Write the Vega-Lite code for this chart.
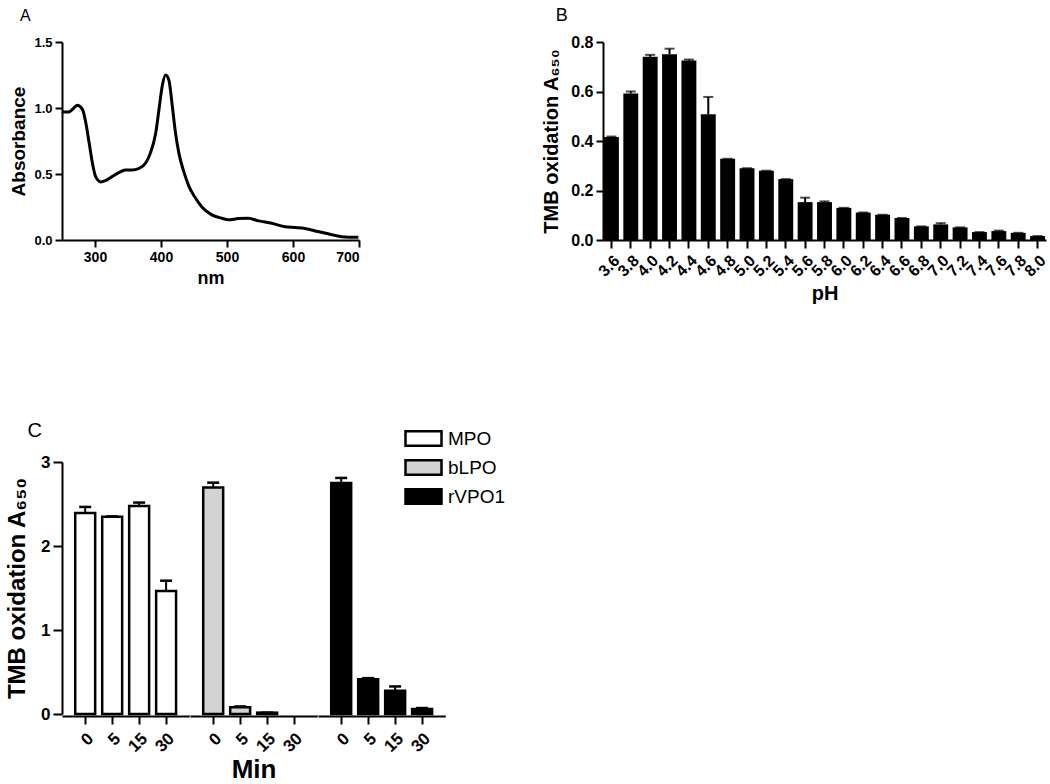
{
"$schema": "https://vega.github.io/schema/vega-lite/v6.json",
"padding": {"left": 5, "top": 7, "right": 0, "bottom": 0},
"background": "white",
"config": {
  "view": {"stroke": null},
  "font": "Liberation Sans",
  "axis": {"domainColor": "black", "domainWidth": 2, "tickColor": "black", "tickWidth": 2, "tickSize": 7, "labelColor": "black", "titleColor": "black", "grid": false, "labelFont": "Liberation Sans", "titleFont": "Liberation Sans", "labelFontWeight": "bold", "titleFontWeight": "bold", "labelPadding": 3},
  "title": {"font": "Liberation Sans", "fontWeight": "normal", "color": "black", "anchor": "start", "frame": "bounds"}
},
"vconcat": [
  {
    "hconcat": [
      {
        "title": {"text": "A", "fontSize": 16, "offset": 12, "dx": 10},
        "width": 297, "height": 198,
        "data": {"values": [
          {"nm": 250, "a": 0.975}, {"nm": 253, "a": 0.97}, {"nm": 260, "a": 0.97}, {"nm": 266, "a": 0.99}, {"nm": 273, "a": 1.02}, {"nm": 281, "a": 0.99}, {"nm": 286, "a": 0.89}, {"nm": 291, "a": 0.74}, {"nm": 296, "a": 0.585}, {"nm": 301, "a": 0.48}, {"nm": 309, "a": 0.44}, {"nm": 316, "a": 0.45}, {"nm": 326, "a": 0.48}, {"nm": 336, "a": 0.51}, {"nm": 346, "a": 0.53}, {"nm": 356, "a": 0.53}, {"nm": 366, "a": 0.54}, {"nm": 377, "a": 0.585}, {"nm": 384, "a": 0.66}, {"nm": 392, "a": 0.81}, {"nm": 397, "a": 0.99}, {"nm": 402, "a": 1.17}, {"nm": 407, "a": 1.25}, {"nm": 412, "a": 1.21}, {"nm": 417, "a": 1.02}, {"nm": 422, "a": 0.81}, {"nm": 427, "a": 0.66}, {"nm": 435, "a": 0.51}, {"nm": 442, "a": 0.41}, {"nm": 452, "a": 0.32}, {"nm": 462, "a": 0.25}, {"nm": 477, "a": 0.19}, {"nm": 492, "a": 0.165}, {"nm": 502, "a": 0.153}, {"nm": 517, "a": 0.162}, {"nm": 532, "a": 0.165}, {"nm": 548, "a": 0.145}, {"nm": 568, "a": 0.127}, {"nm": 588, "a": 0.10}, {"nm": 603, "a": 0.094}, {"nm": 618, "a": 0.087}, {"nm": 638, "a": 0.064}, {"nm": 659, "a": 0.04}, {"nm": 674, "a": 0.025}, {"nm": 699, "a": 0.02}
        ]},
        "mark": {"type": "line", "color": "black", "strokeWidth": 3, "interpolate": "monotone"},
        "encoding": {
          "x": {"field": "nm", "type": "quantitative", "scale": {"domain": [250, 700], "nice": false}, "axis": {"values": [300, 400, 500, 600, 700], "title": "nm", "labelFontSize": 14, "titleFontSize": 18, "titlePadding": 5}},
          "y": {"field": "a", "type": "quantitative", "scale": {"domain": [0, 1.5], "nice": false}, "axis": {"values": [0, 0.5, 1.0, 1.5], "format": ".1f", "title": "Absorbance", "labelFontSize": 13, "titleFontSize": 19, "titlePadding": 5}}
        }
      },
      {
        "title": {"text": "B", "fontSize": 18, "offset": 9, "dx": 14},
        "width": 443, "height": 198,
        "data": {"values": [
          {"pH": "3.6", "v": 0.416, "hi": 0.418}, {"pH": "3.8", "v": 0.592, "hi": 0.6}, {"pH": "4.0", "v": 0.74, "hi": 0.748}, {"pH": "4.2", "v": 0.751, "hi": 0.773}, {"pH": "4.4", "v": 0.725, "hi": 0.729}, {"pH": "4.6", "v": 0.508, "hi": 0.578}, {"pH": "4.8", "v": 0.328, "hi": 0.328}, {"pH": "5.0", "v": 0.29, "hi": 0.29}, {"pH": "5.2", "v": 0.28, "hi": 0.28}, {"pH": "5.4", "v": 0.246, "hi": 0.246}, {"pH": "5.6", "v": 0.153, "hi": 0.171}, {"pH": "5.8", "v": 0.153, "hi": 0.156}, {"pH": "6.0", "v": 0.13, "hi": 0.13}, {"pH": "6.2", "v": 0.111, "hi": 0.111}, {"pH": "6.4", "v": 0.102, "hi": 0.102}, {"pH": "6.6", "v": 0.089, "hi": 0.089}, {"pH": "6.8", "v": 0.055, "hi": 0.055}, {"pH": "7.0", "v": 0.063, "hi": 0.068}, {"pH": "7.2", "v": 0.051, "hi": 0.051}, {"pH": "7.4", "v": 0.032, "hi": 0.032}, {"pH": "7.6", "v": 0.036, "hi": 0.038}, {"pH": "7.8", "v": 0.029, "hi": 0.029}, {"pH": "8.0", "v": 0.016, "hi": 0.016}
        ]},
        "encoding": {
          "x": {"field": "pH", "type": "ordinal", "sort": null, "scale": {"paddingInner": 0.23, "paddingOuter": 0.05}, "axis": {"labelAngle": -45, "labelFontSize": 16, "title": "pH", "titleFontSize": 20, "tickSize": 8, "labelPadding": 4, "titlePadding": 4}},
          "y": {"field": "v", "type": "quantitative", "scale": {"domain": [0, 0.8], "nice": false}, "axis": {"values": [0, 0.2, 0.4, 0.6, 0.8], "format": ".1f", "title": "TMB oxidation A₆₅₀", "labelFontSize": 16, "titleFontSize": 20, "titlePadding": 9}}
        },
        "layer": [
          {"mark": {"type": "rule", "color": "black", "strokeWidth": 2}, "encoding": {"y2": {"field": "hi"}}},
          {"mark": {"type": "tick", "color": "black", "thickness": 2, "size": 10, "orient": "horizontal"}, "encoding": {"y": {"field": "hi", "type": "quantitative"}}},
          {"mark": {"type": "bar", "color": "black"}}
        ]
      }
    ],
    "spacing": 176
  },
  {
    "title": {"text": "C", "fontSize": 20, "offset": 12, "dx": 22},
    "data": {"values": [
      {"Enzyme": "MPO", "Min": 0, "v": 2.394, "hi": 2.465},
      {"Enzyme": "MPO", "Min": 5, "v": 2.347, "hi": 2.352},
      {"Enzyme": "MPO", "Min": 15, "v": 2.477, "hi": 2.517},
      {"Enzyme": "MPO", "Min": 30, "v": 1.464, "hi": 1.587},
      {"Enzyme": "bLPO", "Min": 0, "v": 2.695, "hi": 2.754},
      {"Enzyme": "bLPO", "Min": 5, "v": 0.079, "hi": 0.09},
      {"Enzyme": "bLPO", "Min": 15, "v": 0.016, "hi": 0.016},
      {"Enzyme": "bLPO", "Min": 30, "v": 0, "hi": 0},
      {"Enzyme": "rVPO1", "Min": 0, "v": 2.75, "hi": 2.81},
      {"Enzyme": "rVPO1", "Min": 5, "v": 0.415, "hi": 0.427},
      {"Enzyme": "rVPO1", "Min": 15, "v": 0.277, "hi": 0.328},
      {"Enzyme": "rVPO1", "Min": 30, "v": 0.059, "hi": 0.071}
    ]},
    "facet": {"column": {"field": "Enzyme", "type": "nominal", "sort": ["MPO", "bLPO", "rVPO1"], "title": "Min", "header": {"labels": false, "titleOrient": "bottom", "titleFontSize": 26, "titleFontWeight": "bold", "titleFont": "Liberation Sans", "titleColor": "black", "titlePadding": -8}}},
    "spacing": 0,
    "spec": {
      "width": 127.3, "height": 252,
      "encoding": {
        "x": {"field": "Min", "type": "ordinal", "sort": [0, 5, 15, 30], "scale": {"paddingInner": 0.26, "paddingOuter": 0.49}, "axis": {"labelAngle": -45, "labelFontSize": 17, "title": null, "tickSize": 8, "labelPadding": 6}},
        "y": {"field": "v", "type": "quantitative", "scale": {"domain": [0, 3], "nice": false}, "axis": {"values": [0, 1, 2, 3], "format": "d", "title": "TMB oxidation A₆₅₀", "labelFontSize": 17, "titleFontSize": 24, "titlePadding": 11, "tickSize": 9}}
      },
      "layer": [
        {"mark": {"type": "rule", "color": "black", "strokeWidth": 2}, "encoding": {"y2": {"field": "hi"}}},
        {"mark": {"type": "tick", "color": "black", "thickness": 2.5, "size": 12, "orient": "horizontal"}, "encoding": {"y": {"field": "hi", "type": "quantitative"}, "opacity": {"condition": {"test": "datum.v > 0", "value": 1}, "value": 0}}},
        {"mark": {"type": "bar", "stroke": "black", "strokeWidth": 2.5},
         "encoding": {
           "strokeOpacity": {"condition": {"test": "datum.v > 0", "value": 1}, "value": 0},
           "fill": {"field": "Enzyme", "type": "nominal", "scale": {"domain": ["MPO", "bLPO", "rVPO1"], "range": ["white", "#d3d3d3", "black"]},
           "legend": {"title": null, "orient": "none", "legendX": 348, "legendY": 383, "symbolType": "M-1.5,-0.6H1.5V0.6H-1.5Z", "symbolSize": 576, "symbolStrokeColor": "black", "symbolStrokeWidth": 2.5, "labelFont": "Liberation Sans", "labelFontSize": 19, "labelColor": "black", "labelOffset": 11, "rowPadding": 3, "padding": 0}}}}
      ]
    }
  }
],
"spacing": 117
}
